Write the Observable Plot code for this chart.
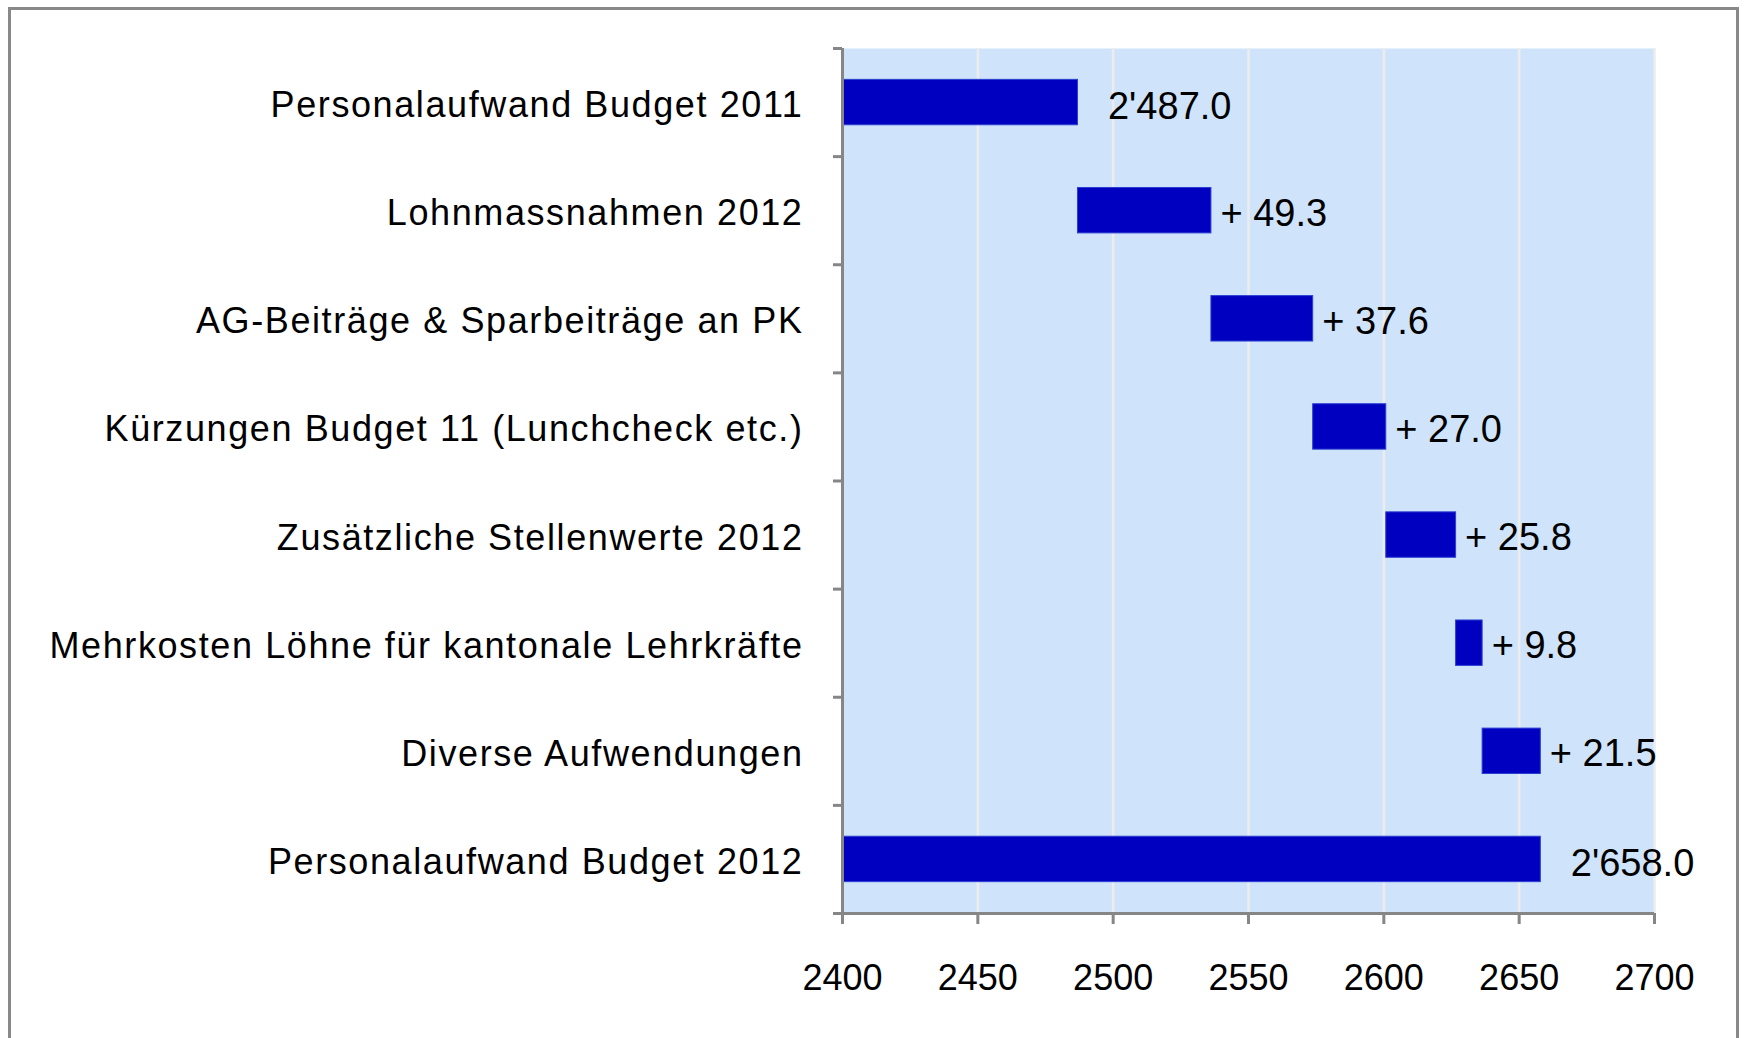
<!DOCTYPE html>
<html>
<head>
<meta charset="utf-8">
<script src="https://cdn.jsdelivr.net/npm/d3@7"></script>
<script src="https://cdn.jsdelivr.net/npm/@observablehq/plot@0.6"></script>
<style>
  html, body { margin: 0; padding: 0; background: #ffffff; }
  #wrap { position: relative; width: 1750px; height: 1038px; overflow: hidden; }
  #border { position: absolute; left: 8px; top: 7px; width: 1731px; height: 1100px;
            border: 3px solid #898989; box-sizing: border-box; pointer-events: none; }
  #chart { position: absolute; left: 0; top: 0; }
  #chart g[aria-label="y-axis tick label"] text { letter-spacing: 1.6px; }
</style>
</head>
<body>
<div id="wrap"><div id="chart"></div><div id="border"></div></div>
<script>
// ---- data ----
const categories = [
  "Personalaufwand Budget 2011",
  "Lohnmassnahmen 2012",
  "AG-Beiträge & Sparbeiträge an PK",
  "Kürzungen Budget 11 (Lunchcheck etc.)",
  "Zusätzliche Stellenwerte 2012",
  "Mehrkosten Löhne für kantonale Lehrkräfte",
  "Diverse Aufwendungen",
  "Personalaufwand Budget 2012"
];
const values = [2487.0, 49.3, 37.6, 27.0, 25.8, 9.8, 21.5, 2658.0];
const kinds = ["total", "delta", "delta", "delta", "delta", "delta", "delta", "total"];
const xTicks = [2400, 2450, 2500, 2550, 2600, 2650, 2700];
const xDomain = [2400, 2700];

// ---- build rows ----
const swiss = d3.formatLocale({decimal: ".", thousands: "'", grouping: [3], currency: ["", ""]});
const fmtTotal = swiss.format(",.1f");
const fmtDelta = d3.format(".1f");
let running = 0;
const rows = categories.map((c, i) => {
  const v = values[i];
  let x1, x2, label;
  if (kinds[i] === "total") {
    x1 = xDomain[0]; x2 = v; running = v; label = fmtTotal(v);
  } else {
    x1 = running; x2 = running + v; running = x2; label = "+ " + fmtDelta(v);
  }
  return {i, category: c, x1, x2, label, kind: kinds[i]};
});

const gray = "#868686";
const chart = Plot.plot({
  width: 1750,
  height: 1038,
  marginLeft: 842,
  marginRight: 96,
  marginTop: 48,
  marginBottom: 125,
  style: {fontFamily: "'Liberation Sans', Arial, sans-serif", fontSize: "36px", background: "transparent", color: "#000"},
  x: {domain: xDomain},
  y: {domain: [0, categories.length], reverse: true},
  marks: [
    Plot.frame({fill: "#CFE4FA", stroke: null}),
    Plot.gridX(xTicks.slice(1), {stroke: "#ECECEC", strokeOpacity: 1, strokeWidth: 2.5}),
    Plot.rect(rows, {
      x1: "x1", x2: "x2",
      y1: d => d.i + 0.29, y2: d => d.i + 0.71,
      fill: "#0000C0", stroke: "#2B3FD0", strokeWidth: 1
    }),
    Plot.text(rows.filter(d => d.kind === "total"), {
      x: "x2", y: d => d.i + 0.5, text: "label", textAnchor: "start",
      dx: 30, dy: 4, fontSize: 38, fill: "#000"
    }),
    Plot.text(rows.filter(d => d.kind === "delta"), {
      x: "x2", y: d => d.i + 0.5, text: "label", textAnchor: "start",
      dx: 9, dy: 3, fontSize: 38, fill: "#000"
    }),
    Plot.ruleX([xDomain[0]], {stroke: gray, strokeWidth: 3}),
    Plot.ruleY([categories.length], {stroke: gray, strokeWidth: 3}),
    Plot.axisY(d3.range(categories.length + 1), {
      tickSize: 9, tickFormat: () => "", stroke: gray, strokeWidth: 3
    }),
    Plot.axisY(d3.range(categories.length).map(i => i + 0.5), {
      tickSize: 0, tickPadding: 39, fontSize: 36, fill: "#000", dy: 3,
      tickFormat: v => categories[Math.floor(v)]
    }),
    Plot.axisX(xTicks, {
      tickSize: 11, tickPadding: 40, fontSize: 36, fill: "#000",
      stroke: gray, strokeWidth: 3, tickFormat: d => String(d)
    })
  ]
});
document.getElementById("chart").appendChild(chart);
</script>
</body>
</html>
